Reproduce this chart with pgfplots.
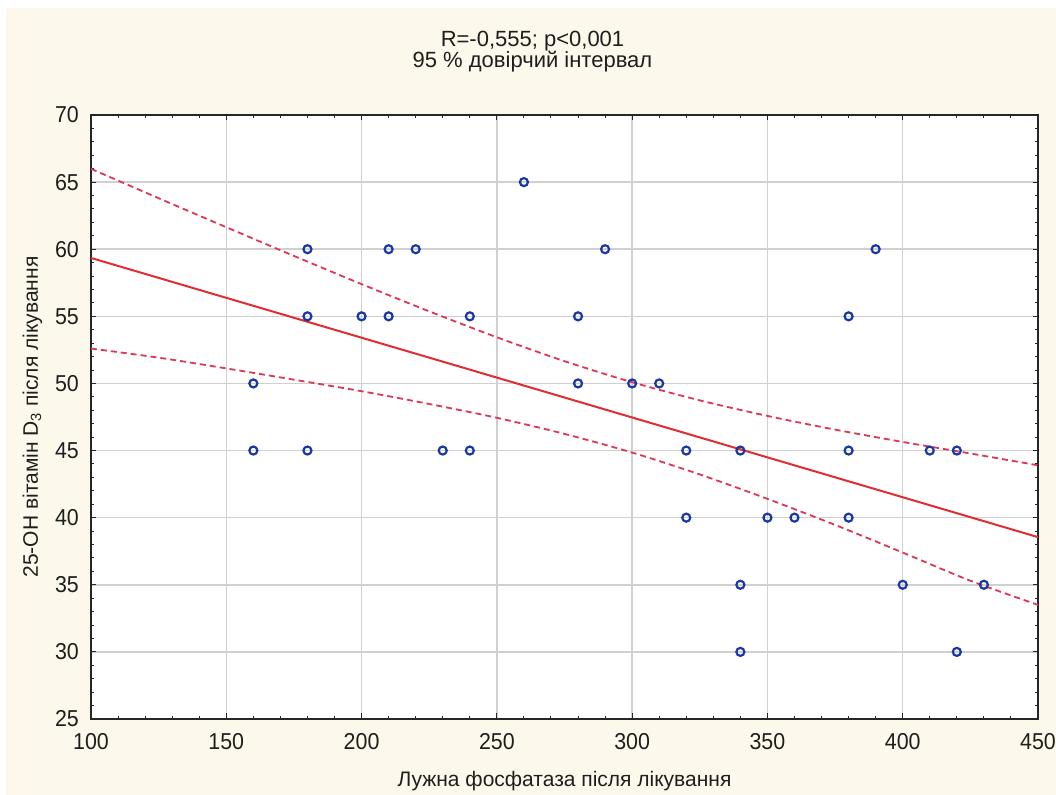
\documentclass[border=0pt]{standalone}
\usepackage{pgfplots}
\pgfplotsset{compat=1.18}
\usepackage{fontspec}
\setmainfont{Liberation Sans}
\newfontfamily\ticksfont[FakeStretch=0.93]{Liberation Sans}
\usetikzlibrary{backgrounds}
\definecolor{cream}{RGB}{252,249,236}
\definecolor{ptblue}{RGB}{25,55,165}
\definecolor{fitred}{RGB}{225,45,50}
\definecolor{bandred}{RGB}{222,55,85}
\definecolor{gridgray}{RGB}{208,208,208}
\definecolor{txt}{RGB}{30,30,30}

\begin{document}
\begin{tikzpicture}
\begin{axis}[
  scale only axis, width=947pt, height=604pt,
  xmin=100, xmax=450, ymin=25, ymax=70,
  xtick={100,150,...,450}, ytick={25,30,...,70},
  minor x tick num=4, minor y tick num=4,
  tick align=inside, tick pos=both,
  major tick length=5.5pt, minor tick length=3pt,
  grid=major, major grid style={color=gridgray, line width=1.5pt},
  axis line style={line width=1.5pt, black!85},
  every tick/.style={black!85, line width=1pt},
  axis background/.style={fill=white},
  /pgf/number format/assume math mode=true,
  ticklabel style={font=\ticksfont\fontsize{23}{23}\selectfont, text=txt},
  xticklabel style={inner sep=0pt, anchor=north, yshift=-14pt},
  yticklabel style={inner sep=0pt, anchor=east, xshift=-12pt},
  xlabel={Лужна фосфатаза після лікування},
  xlabel style={at={(axis description cs:0.5,0)}, anchor=base, inner sep=0pt,
    yshift=-68pt, font=\fontsize{21}{21}\selectfont, text=txt},
  ylabel={25-OH вітамін D\textsubscript{3} після лікування},
  ylabel style={at={(axis description cs:0,0.5)}, anchor=base, inner sep=0pt,
    yshift=53pt, font=\fontsize{21}{21}\selectfont, text=txt},
  title={R=-0,555; p<0,001\\95 \% довірчий інтервал},
  title style={at={(axis description cs:0.5,1)}, anchor=south, inner sep=0pt,
    align=center, xshift=-32pt, yshift=37pt, font=\fontsize{22}{21}\selectfont, text=txt},
]
% 95% confidence band (upper)
\addplot[bandred, line width=1.8pt, dash pattern=on 6pt off 4pt, smooth] coordinates {
(100,65.99) (125,63.80) (150,61.64) (175,59.50) (200,57.40) (225,55.37) (250,53.44)
(275,51.66) (300,50.09) (325,48.74) (350,47.58) (375,46.56) (400,45.64) (425,44.78) (450,43.90)};
% 95% confidence band (lower)
\addplot[bandred, line width=1.8pt, dash pattern=on 6pt off 4pt, smooth] coordinates {
(100,52.60) (125,51.92) (150,51.12) (175,50.28) (200,49.42) (225,48.47) (250,47.44)
(275,46.24) (300,44.85) (325,43.22) (350,41.40) (375,39.46) (400,37.40) (425,35.30) (450,33.50)};
% regression line
\addplot[fitred, line width=2pt] coordinates {(100,59.35) (450,38.55)};
% data
\addplot[only marks, mark=o, ptblue, line width=2.2pt, mark size=4pt] coordinates {
(160,50) (160,45) (180,60) (180,55) (180,45) (200,55) (210,60) (210,55) (220,60)
(230,45) (240,55) (240,45) (260,65) (280,55) (280,50) (290,60) (300,50) (310,50)
(320,45) (320,40) (340,45) (340,35) (340,30) (350,40) (360,40) (380,55) (380,45)
(380,40) (390,60) (400,35) (410,45) (420,45) (420,30) (430,35)};
\end{axis}
\pgfresetboundingbox
\path[use as bounding box] ([xshift=-91pt,yshift=-76pt]current axis.south west) rectangle ([xshift=18pt,yshift=115pt]current axis.north east);
\begin{scope}[on background layer]
\fill[white] ([xshift=-91pt,yshift=-76pt]current axis.south west) rectangle ([xshift=18pt,yshift=115pt]current axis.north east);
\fill[cream] ([xshift=-85pt,yshift=-76pt]current axis.south west) rectangle ([xshift=18pt,yshift=107pt]current axis.north east);
\end{scope}
\end{tikzpicture}
\end{document}
